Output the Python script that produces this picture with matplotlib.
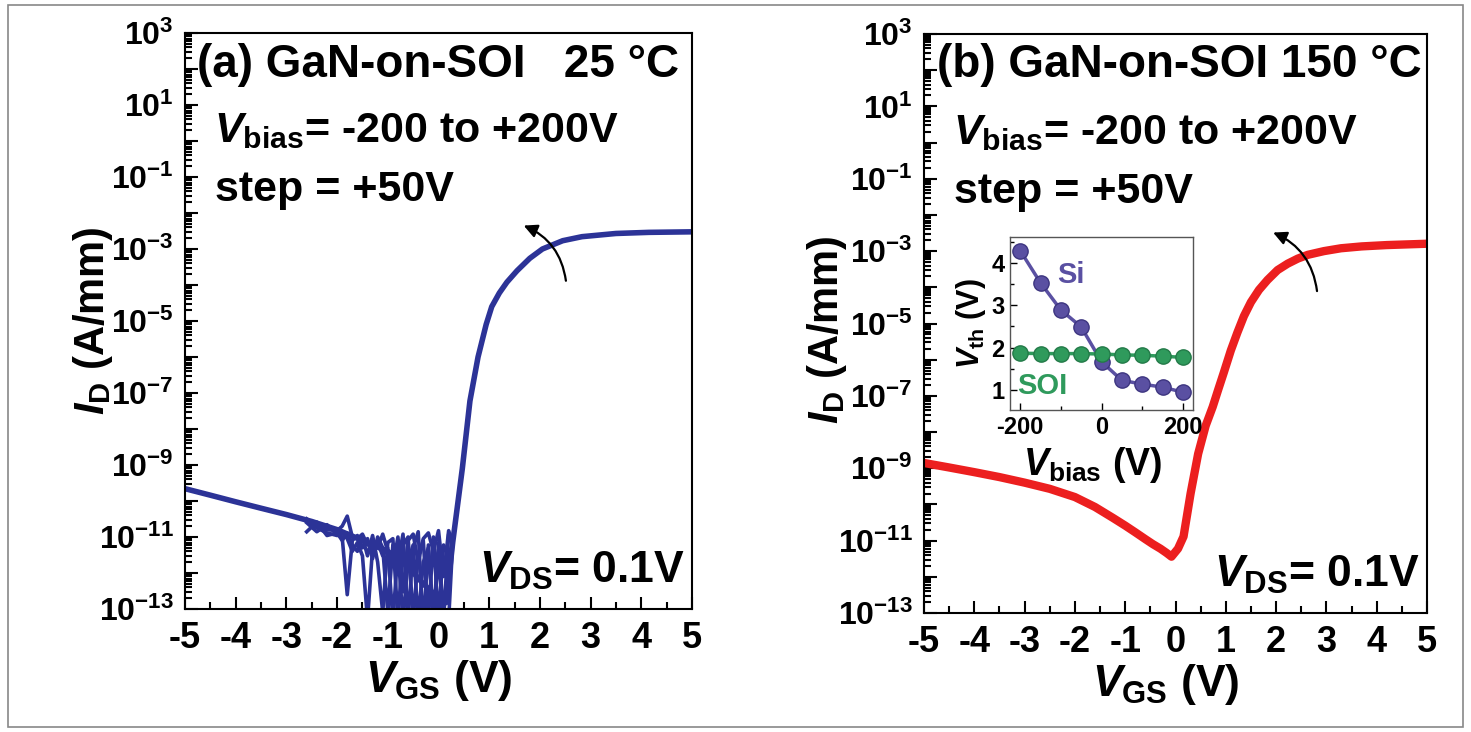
import math
import matplotlib.pyplot as plt
from matplotlib.ticker import LogLocator, FuncFormatter, MultipleLocator, NullFormatter
from matplotlib.patches import Rectangle

plt.rcParams['font.family'] = 'Liberation Sans'
plt.rcParams['font.weight'] = 'bold'
plt.rcParams['axes.labelweight'] = 'bold'
plt.rcParams['mathtext.fontset'] = 'custom'
plt.rcParams['mathtext.rm'] = 'Liberation Sans:bold'
plt.rcParams['mathtext.it'] = 'Liberation Sans:italic:bold'
plt.rcParams['mathtext.bf'] = 'Liberation Sans:bold'
plt.rcParams['axes.unicode_minus'] = False

# (a) 25 C, blue transfer curves
vgs_a = [-5, -4.5, -4, -3.5, -3, -2.5, -2, -1.5, -1.0, -0.6, -0.3, 0.0, 0.15, 0.28,
         0.47, 0.62, 0.78, 0.94, 1.05, 1.2, 1.35, 1.55, 1.8, 2.05, 2.45, 2.83, 3.5, 4.15, 5]
id_a = [2.2e-10, 1.45e-10, 9.5e-11, 6.3e-11, 4.2e-11, 2.7e-11, 1.6e-11, 8e-12, 4e-12, 1.5e-12,
        5e-13, 2e-13, 1.5e-13, 7e-12, 8e-10, 6e-8, 1e-6, 8e-6, 2.5e-5, 6e-5, 1.2e-4, 2.5e-4,
        5.5e-4, 1e-3, 1.7e-3, 2.2e-3, 2.7e-3, 2.9e-3, 3.0e-3]

# noisy off-state traces of the different Vbias sweeps
vgs_noise = [-2.6, -2.4, -2.2, -2.0, -1.9, -1.8, -1.7, -1.6, -1.5, -1.4, -1.3, -1.2, -1.1,
             -1.0, -0.9, -0.8, -0.7, -0.6, -0.5, -0.4, -0.3, -0.2, -0.1, 0.0, 0.1, 0.2, 0.28]
id_noise1 = [3.2e-11, 2e-11, 1.6e-11, 1.5e-11, 2e-11, 3.8e-11, 1e-11, 9e-12, 1.2e-11, 6e-12,
             8e-12, 5e-12, 1.2e-11, 4e-12, 1.5e-12, 1e-11, 3e-13, 8e-12, 1.2e-11, 2e-12,
             9e-12, 1.3e-11, 4e-12, 1.5e-11, 8e-13, 1.5e-11, 7e-12]
id_noise2 = [2.5e-11, 1.4e-11, 2.2e-11, 1.2e-11, 1e-11, 2.5e-13, 8e-12, 1.1e-11, 5e-12,
             9e-12, 2.5e-12, 1e-11, 5e-12, 8e-14, 6e-12, 2e-12, 1.2e-11, 5e-14, 5e-12,
             1.4e-11, 3e-14, 6e-12, 5e-14, 7e-12, 5e-14, 1.2e-11, 7e-12]
id_noise3 = [1.4e-11, 2.6e-11, 1.1e-11, 1.3e-11, 8e-12, 1.3e-11, 6e-12, 4e-12, 1e-11,
             3e-12, 1.1e-11, 2e-12, 8e-14, 7e-12, 9e-12, 5e-14, 6e-12, 1e-11, 5e-14,
             3e-12, 8e-12, 5e-14, 1e-11, 5e-14, 6e-12, 3e-12, 7e-12]
id_noise4 = [2.8e-11, 1.8e-11, 1.3e-11, 1.1e-11, 1.3e-11, 9e-12, 4e-12, 7e-12, 3e-12,
             5e-14, 5e-12, 7e-12, 3e-12, 5e-12, 5e-14, 4e-12, 5e-14, 2e-12, 6e-12,
             5e-14, 2e-12, 5e-12, 5e-14, 3e-12, 5e-14, 5e-14, 7e-12]

# (b) 150 C, red transfer curves
vgs_b = [-5, -4.5, -4, -3.5, -3, -2.5, -2, -1.6, -1.25, -1.0, -0.8, -0.6, -0.45, -0.3,
         -0.18, -0.08, 0.05, 0.16, 0.3, 0.45, 0.6, 0.74, 0.85, 0.96, 1.1, 1.23, 1.36, 1.5,
         1.66, 1.83, 2.03, 2.23, 2.43, 2.63, 2.95, 3.29, 3.7, 4.2, 5]
id_b = [1.4e-9, 1.05e-9, 7.8e-10, 5.7e-10, 4.0e-10, 2.7e-10, 1.6e-10, 8.5e-11, 4.3e-11,
        2.6e-11, 1.7e-11, 1.1e-11, 8e-12, 6e-12, 4.6e-12, 3.6e-12, 6e-12, 1.3e-11, 2e-10,
        2.5e-9, 1.5e-8, 5e-8, 1.5e-7, 4.4e-7, 1.8e-6, 5.6e-6, 1.6e-5, 3.9e-5, 8.5e-5,
        1.6e-4, 3e-4, 4.5e-4, 6.2e-4, 7.9e-4, 1e-3, 1.2e-3, 1.35e-3, 1.47e-3, 1.6e-3]

# inset: threshold voltage vs substrate bias
vbias = [-200, -150, -100, -50, 0, 50, 100, 150, 200]
vth_si = [4.29, 3.53, 2.89, 2.49, 1.67, 1.23, 1.14, 1.07, 0.95]
vth_soi = [1.87, 1.86, 1.86, 1.86, 1.85, 1.83, 1.82, 1.80, 1.77]

W, H = 1471, 732
fig = plt.figure(figsize=(W / 100, H / 100), dpi=100)
fig.patches.append(Rectangle((8 / W, 5 / H), 1455 / W, 722 / H, transform=fig.transFigure,
                             fill=False, edgecolor='#888888', lw=1.2))

ax_a = fig.add_axes([185 / W, 1 - 609 / H, 507 / W, 576 / H])
ax_b = fig.add_axes([924 / W, 1 - 613 / H, 503 / W, 579 / H])


def dec_label(v, pos):
    e = int(round(math.log10(v)))
    if e % 2 == 0:
        return ''
    return r'$\mathdefault{10^{%d}}$' % e


def style_main(ax):
    ax.set_xlim(-5, 5)
    ax.set_yscale('log')
    ax.set_ylim(1e-13, 1e3)
    ax.yaxis.set_major_locator(LogLocator(base=10, numticks=40))
    ax.yaxis.set_minor_locator(LogLocator(base=10, subs=range(2, 10), numticks=40))
    ax.yaxis.set_major_formatter(FuncFormatter(dec_label))
    ax.yaxis.set_minor_formatter(NullFormatter())
    ax.xaxis.set_major_locator(MultipleLocator(1))
    ax.xaxis.set_minor_locator(MultipleLocator(0.5))
    ax.tick_params(which='both', direction='in', pad=9, width=1.5)
    ax.tick_params(axis='x', labelsize=26)
    ax.tick_params(axis='y', labelsize=23, pad=8)
    ax.tick_params(which='major', length=9)
    ax.tick_params(which='minor', length=5)
    for s in ax.spines.values():
        s.set_linewidth(1.5)
    ax.set_xlabel(r'$V_{\mathrm{GS}}$ (V)', fontsize=32)
    ax.set_ylabel(r'$I_{\mathrm{D}}$ (A/mm)', fontsize=30)


style_main(ax_a)
style_main(ax_b)
ax_a.xaxis.set_label_coords(0.5, -0.085)
ax_b.xaxis.set_label_coords(0.48, -0.085)
ax_a.yaxis.set_label_coords(-0.138, 0.5)
ax_b.yaxis.set_label_coords(-0.15, 0.49)

blue = '#2c3397'
for y in [id_noise1, id_noise2, id_noise3, id_noise4]:
    ax_a.plot(vgs_noise, y, color=blue, lw=2.6)
ax_a.plot(vgs_a, id_a, color=blue, lw=4)

red = '#ec1f1f'
ax_b.plot(vgs_b, id_b, color=red, lw=6)

# texts
ax_a.text(0.024, 0.944, '(a) GaN-on-SOI   25 \u00b0C', transform=ax_a.transAxes,
          fontsize=33, va='center', ha='left')
ax_b.text(0.026, 0.946, '(b) GaN-on-SOI 150 \u00b0C', transform=ax_b.transAxes,
          fontsize=33, va='center', ha='left')
for ax in (ax_a, ax_b):
    ax.text(0.058, 0.81, r'$V_{\mathrm{bias}}$= -200 to +200V', transform=ax.transAxes,
            fontsize=31, va='baseline', ha='left')
    ax.text(0.06, 0.708, 'step = +50V', transform=ax.transAxes,
            fontsize=31, va='baseline', ha='left')
    ax.text(0.985, 0.045, r'$V_{\mathrm{DS}}$= 0.1V', transform=ax.transAxes,
            fontsize=32, va='baseline', ha='right')

# curved arrows (direction of increasing Vbias)
ax_a.annotate('', xy=(1.63, 4.8e-3), xytext=(2.52, 1.1e-4),
              arrowprops=dict(arrowstyle='-|>', color='black', lw=1.6,
                              connectionstyle='arc3,rad=0.3', mutation_scale=20))
ax_b.annotate('', xy=(1.89, 3.5e-3), xytext=(2.82, 6.6e-5),
              arrowprops=dict(arrowstyle='-|>', color='black', lw=1.6,
                              connectionstyle='arc3,rad=0.3', mutation_scale=20))

# inset
ins = fig.add_axes([1010 / W, 1 - 410 / H, 183 / W, 173 / H])
si_col = '#5a50a2'
soi_col = '#2f9a5c'
ins.plot(vbias, vth_si, '-o', color=si_col, lw=2.5, ms=11, mec='#3d3580', mew=1)
ins.plot(vbias, vth_soi, '-o', color=soi_col, lw=2.5, ms=11, mec='#237a48', mew=1)
ins.set_xlim(-225, 225)
ins.set_ylim(0.53, 4.61)
ins.xaxis.set_major_locator(MultipleLocator(200))
ins.xaxis.set_minor_locator(MultipleLocator(100))
ins.yaxis.set_major_locator(MultipleLocator(1))
ins.yaxis.set_minor_locator(MultipleLocator(0.5))
ins.tick_params(which='both', direction='in', labelsize=17, pad=4, width=1)
ins.tick_params(which='major', length=5)
ins.tick_params(which='minor', length=3)
for s in ins.spines.values():
    s.set_linewidth(1)
    s.set_color('#555555')
ins.set_xlabel(r'$V_{\mathrm{bias}}$ (V)', fontsize=27, labelpad=2)
ins.xaxis.set_label_coords(0.45, -0.2)
ins.set_ylabel(r'$V_{\mathrm{th}}$ (V)', fontsize=22, labelpad=2)
ins.text(0.26, 0.78, 'Si', color=si_col, fontsize=21, transform=ins.transAxes,
         ha='left', va='center')
ins.text(0.04, 0.14, 'SOI', color=soi_col, fontsize=21, transform=ins.transAxes,
         ha='left', va='center')

fig.savefig('out.png', dpi=100)
